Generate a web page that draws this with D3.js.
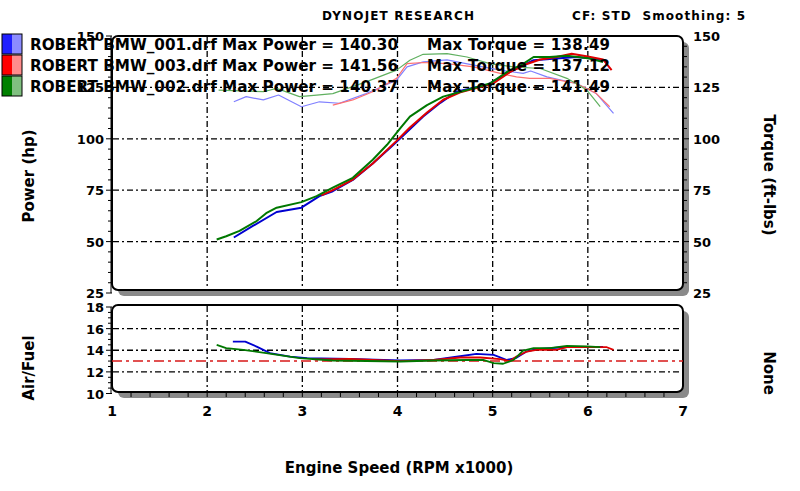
<!DOCTYPE html>
<html>
<head>
<meta charset="utf-8">
<script src="https://cdn.jsdelivr.net/npm/d3@7"></script>
<style>
    body { margin: 0; background: #fff; }
    text { font-family: "DejaVu Sans", Verdana, sans-serif; font-weight: bold; fill: #000; }
</style>
</head>
<body>
<svg id="canvas"></svg>
<script>
(() => {

    const WIDTH = 800;
    const HEIGHT = 491;

    // runs: rpm (x1000) and value pairs
    const power001 = [[2.28,52],[2.48,57.6],[2.73,64.4],[2.99,66.5],[3.18,72.1],[3.32,74.5],[3.53,80],[3.74,88],[3.92,95.5],[4.03,100.3],[4.27,110.8],[4.45,117.5],[4.62,122.9],[4.80,124.8],[4.94,126.1],[5.15,131.8],[5.30,135.2],[5.43,138.2],[5.67,139],[5.88,139.8],[6.02,139.2],[6.16,138.2]];
    const power003 = [[3.20,72.5],[3.32,75],[3.53,80.2],[3.74,88],[3.99,99],[4.13,105.5],[4.31,112.8],[4.48,119],[4.66,122.6],[4.85,124.9],[5.01,127],[5.18,132.4],[5.36,136.4],[5.50,138.6],[5.67,139.8],[5.83,141.4],[6.00,140],[6.16,138.6],[6.25,133.4]];
    const power002 = [[2.10,51],[2.20,52.6],[2.34,55.2],[2.52,60],[2.62,63.8],[2.73,66.5],[2.99,69.2],[3.15,72.1],[3.32,76.2],[3.53,81],[3.74,89.8],[3.89,97.1],[4.03,105.2],[4.13,110.8],[4.31,116.4],[4.48,120.5],[4.73,123.7],[4.97,126.9],[5.18,133.4],[5.30,135.8],[5.43,139.8],[5.60,139.8],[5.78,140.4],[6.02,139],[6.16,137.4]];

    const torque001 = [[2.28,118],[2.41,120.5],[2.59,118.9],[2.75,121.3],[2.99,115.6],[3.18,118],[3.39,117.3],[3.67,122],[3.99,128.5],[4.10,135],[4.27,137.4],[4.52,138.4],[4.80,135.8],[5.08,133.4],[5.32,131.8],[5.40,133],[5.57,130.1],[5.88,126.9],[6.09,122],[6.27,112.4]];
    const torque003 = [[3.32,116.4],[3.53,118.9],[3.74,122.9],[3.99,129.4],[4.10,136.6],[4.27,137.1],[4.52,136.6],[4.80,135],[5.08,131.8],[5.25,130.1],[5.39,129.4],[5.60,129.4],[5.88,126.9],[6.09,122],[6.23,115.6]];
    const torque002 = [[2.12,123.7],[2.35,123.3],[2.59,122.9],[2.73,124.5],[2.97,120.5],[3.15,121.2],[3.32,122],[3.67,127.7],[3.99,133.4],[4.13,138.2],[4.27,141.1],[4.52,141.4],[4.73,139.8],[4.97,136.6],[5.22,135],[5.50,134.2],[5.78,129.4],[5.99,123.7],[6.13,115.6]];

    const afr001 = [[2.27,14.8],[2.40,14.8],[2.52,14.34],[2.66,13.73],[2.87,13.42],[3.05,13.27],[3.50,13.2],[4.03,13.05],[4.38,13.1],[4.62,13.4],[4.83,13.67],[5.01,13.57],[5.15,13.1],[5.25,13.3],[5.36,13.9],[5.46,14.1],[5.78,14.3],[6.16,14.3]];
    const afr003 = [[3.12,13.15],[3.50,13.2],[4.03,13.0],[4.38,13.1],[4.66,13.33],[4.87,13.33],[5.08,13.18],[5.18,13.0],[5.25,13.42],[5.36,13.88],[5.46,14.04],[5.67,14.04],[5.78,14.28],[6.20,14.28],[6.27,14.04]];
    const afr002 = [[2.10,14.5],[2.20,14.2],[2.38,14.04],[2.62,13.73],[2.97,13.27],[3.32,13.05],[4.03,12.96],[4.38,13.05],[4.73,13.1],[4.90,13.1],[5.01,12.8],[5.11,12.75],[5.22,13.1],[5.32,13.97],[5.43,14.2],[5.60,14.2],[5.78,14.4],[5.99,14.35],[6.13,14.28]];

    const AFR_TARGET = 13.0;

    const runNames = ["ROBERT BMW_001.drf", "ROBERT BMW_003.drf", "ROBERT BMW_002.drf"];
    const maxPower = ["140.30", "141.56", "140.37"];
    const maxTorque = ["138.49", "137.12", "141.49"];
    const darkColors = ["#0000d0", "#e00000", "#007800"];
    const lightColors = ["#8080ff", "#ff7070", "#60b060"];
    const swatchDark = ["#2020ff", "#ff0000", "#008000"];
    const swatchLight = ["#8c8cff", "#ff8c8c", "#80c080"];

    const rpmTicks = [1, 2, 3, 4, 5, 6, 7];
    const powerTicks = [25, 50, 75, 100, 125, 150];
    const afrTicks = [10, 12, 14, 16, 18];

    const X0 = 112, X1 = 683;
    const TOP_Y0 = 36, TOP_Y1 = 290;
    const AFR_Y0 = 305, AFR_Y1 = 392;
    const SHADOW = 6;

    let svg = d3.select("#canvas")
        .attr("width", WIDTH)
        .attr("height", HEIGHT);

    let x = d3.scaleLinear().domain([1, 7]).range([X0, X1]);
    let yTop = d3.scaleLinear().domain([25, 150]).range([293, 36]);
    let yAfr = d3.scaleLinear().domain([10, 18]).range([393.5, 307]);

    function drawFrame(y0, y1) {
        // grey drop shadow, right and bottom
        svg.append("rect")
            .attr("x", X0 + SHADOW).attr("y", y0 + SHADOW)
            .attr("width", X1 - X0).attr("height", y1 - y0)
            .attr("rx", 6)
            .attr("fill", "#8a8a8a");
        svg.append("rect")
            .attr("x", X0).attr("y", y0)
            .attr("width", X1 - X0).attr("height", y1 - y0)
            .attr("rx", 6)
            .attr("fill", "#fff")
            .attr("stroke", "#000")
            .attr("stroke-width", 2);
    }

    function drawGrid(yScale, values, y0, y1) {
        let g = svg.append("g").attr("class", "grid");
        g.selectAll("line.h").data(values).enter().append("line")
            .attr("x1", X0 + 1).attr("x2", X1 - 1)
            .attr("y1", d => yScale(d)).attr("y2", d => yScale(d))
            .attr("stroke", "#000").attr("stroke-width", 1.3)
            .attr("stroke-dasharray", "6,3,2,3");
        g.selectAll("line.v").data(rpmTicks.slice(1, -1)).enter().append("line")
            .attr("x1", d => x(d)).attr("x2", d => x(d))
            .attr("y1", y0 + 1).attr("y2", y1 - 1)
            .attr("stroke", "#000").attr("stroke-width", 1.3)
            .attr("stroke-dasharray", "6,3,2,3");
    }

    function drawLeftTicks(yScale, lo, hi, minorStep, majorStep) {
        let g = svg.append("g");
        let vals = d3.range(lo, hi + minorStep / 2, minorStep);
        g.selectAll("line").data(vals).enter().append("line")
            .attr("x1", d => Math.abs(d / majorStep - Math.round(d / majorStep)) < 1e-6 ? X0 - 6 : X0 - 4)
            .attr("x2", X0)
            .attr("y1", d => yScale(d)).attr("y2", d => yScale(d))
            .attr("stroke", "#000").attr("stroke-width", 1);
        g.append("line")
            .attr("x1", X0 - 1).attr("x2", X0 - 1)
            .attr("y1", yScale(hi)).attr("y2", yScale(lo))
            .attr("stroke", "#000").attr("stroke-width", 1);
    }

    function drawLine(data, yScale, color, width) {
        let line = d3.line()
            .x(d => x(d[0]))
            .y(d => yScale(d[1]));
        svg.append("path")
            .datum(data)
            .attr("d", line)
            .attr("fill", "none")
            .attr("stroke", color)
            .attr("stroke-width", width)
            .attr("stroke-linejoin", "round");
    }

    // frames
    drawFrame(TOP_Y0, TOP_Y1);
    drawFrame(AFR_Y0, AFR_Y1);

    // right-hand tick marks on the main frame's shadow
    svg.append("g").selectAll("line")
        .data(d3.range(30, 150, 5)).enter().append("line")
        .attr("x1", X1 + 1).attr("x2", d => d % 25 === 0 ? X1 + 6 : X1 + 4)
        .attr("y1", d => yTop(d)).attr("y2", d => yTop(d))
        .attr("stroke", "#000").attr("stroke-width", 1);

    // bottom tick marks on the AFR frame's shadow
    svg.append("g").selectAll("line")
        .data(d3.range(1.2, 7, 0.2)).enter().append("line")
        .attr("x1", d => x(d)).attr("x2", d => x(d))
        .attr("y1", AFR_Y1 + 1).attr("y2", AFR_Y1 + 5)
        .attr("stroke", "#000").attr("stroke-width", 1);

    drawGrid(yTop, [50, 75, 100, 125], TOP_Y0, TOP_Y1);
    drawGrid(yAfr, [12, 14, 16], AFR_Y0, AFR_Y1);

    drawLeftTicks(yTop, 25, 150, 5, 25);
    drawLeftTicks(yAfr, 10, 18, 0.5, 2);

    // tick labels
    svg.append("g").selectAll("text")
        .data(powerTicks).enter().append("text")
        .attr("x", 104).attr("y", d => yTop(d) + 5)
        .attr("text-anchor", "end")
        .style("font-size", "13px")
        .text(d => d);
    svg.append("g").selectAll("text")
        .data(powerTicks).enter().append("text")
        .attr("x", 693).attr("y", d => yTop(d) + 5)
        .style("font-size", "13px")
        .text(d => d);
    svg.append("g").selectAll("text")
        .data(afrTicks).enter().append("text")
        .attr("x", 104).attr("y", d => yAfr(d) + 5)
        .attr("text-anchor", "end")
        .style("font-size", "13px")
        .text(d => d);
    svg.append("g").selectAll("text")
        .data(rpmTicks).enter().append("text")
        .attr("x", d => x(d)).attr("y", 416)
        .attr("text-anchor", "middle")
        .style("font-size", "14px")
        .text(d => d);

    // AFR target line
    svg.append("line")
        .attr("x1", X0).attr("x2", X1)
        .attr("y1", yAfr(AFR_TARGET)).attr("y2", yAfr(AFR_TARGET))
        .attr("stroke", "#d81818").attr("stroke-width", 1.6)
        .attr("stroke-dasharray", "10,4,3,4");

    // curves: torque (light) first, then power (dark)
    let torques = [torque001, torque003, torque002];
    let powers = [power001, power003, power002];
    let afrs = [afr001, afr003, afr002];
    torques.forEach((t, i) => drawLine(t, yTop, lightColors[i], 1.2));
    powers.forEach((p, i) => drawLine(p, yTop, darkColors[i], 2));
    afrs.forEach((a, i) => drawLine(a, yAfr, darkColors[i], 1.8));

    // header
    svg.append("text")
        .attr("x", 322).attr("y", 20)
        .attr("textLength", 152).attr("lengthAdjust", "spacing")
        .style("font-size", "12px")
        .text("DYNOJET RESEARCH");
    svg.append("text")
        .attr("x", 572).attr("y", 20)
        .attr("textLength", 173).attr("lengthAdjust", "spacing")
        .style("font-size", "12px")
        .attr("xml:space", "preserve")
        .text("CF: STD  Smoothing: 5");

    // legend
    let legend = svg.append("g").attr("class", "legend");
    runNames.forEach((name, i) => {
        let top = 34 + i * 21;
        legend.append("rect")
            .attr("x", 2).attr("y", top).attr("width", 10).attr("height", 20)
            .attr("fill", swatchDark[i]);
        legend.append("rect")
            .attr("x", 12).attr("y", top).attr("width", 10).attr("height", 20)
            .attr("fill", swatchLight[i]);
        legend.append("rect")
            .attr("x", 2).attr("y", top).attr("width", 20).attr("height", 20)
            .attr("fill", "none").attr("stroke", "#000").attr("stroke-width", 1);
        legend.append("text")
            .attr("x", 30).attr("y", top + 16)
            .attr("textLength", 368).attr("lengthAdjust", "spacingAndGlyphs")
            .style("font-size", "15px")
            .text(`${name} Max Power = ${maxPower[i]}`);
        legend.append("text")
            .attr("x", 427).attr("y", top + 16)
            .attr("textLength", 183).attr("lengthAdjust", "spacing")
            .style("font-size", "15px")
            .text(`Max Torque = ${maxTorque[i]}`);
    });

    // axis titles
    svg.append("text")
        .attr("transform", "translate(34,176) rotate(-90)")
        .attr("text-anchor", "middle")
        .style("font-size", "15px")
        .text("Power (hp)");
    svg.append("text")
        .attr("transform", "translate(34,368) rotate(-90)")
        .attr("text-anchor", "middle")
        .style("font-size", "15px")
        .text("Air/Fuel");
    svg.append("text")
        .attr("transform", "translate(764,175) rotate(90)")
        .attr("text-anchor", "middle")
        .style("font-size", "15px")
        .text("Torque (ft-lbs)");
    svg.append("text")
        .attr("transform", "translate(764,373) rotate(90)")
        .attr("text-anchor", "middle")
        .style("font-size", "15px")
        .text("None");
    svg.append("text")
        .attr("x", 399).attr("y", 473)
        .attr("text-anchor", "middle")
        .style("font-size", "15px")
        .text("Engine Speed (RPM x1000)");

})();
</script>
</body>
</html>
